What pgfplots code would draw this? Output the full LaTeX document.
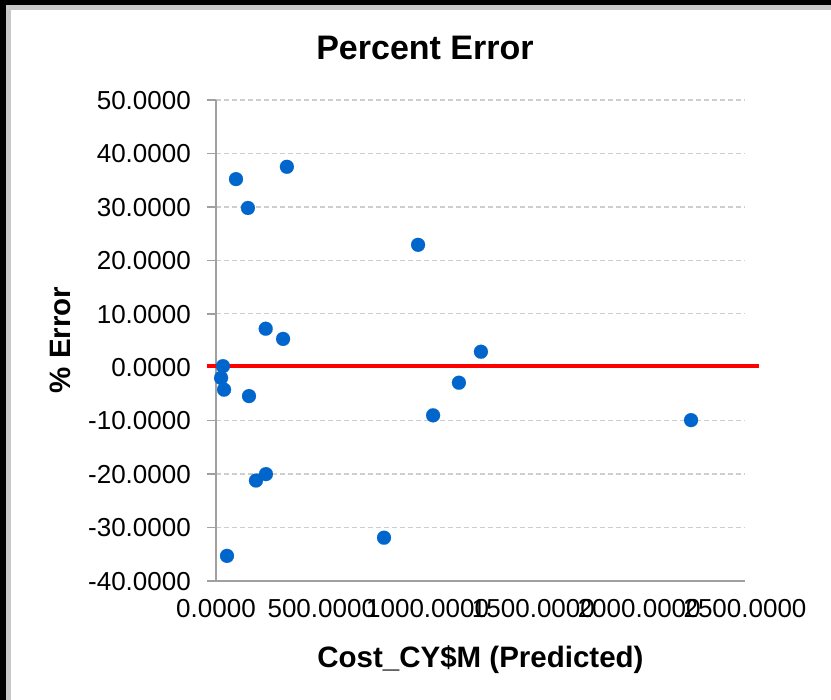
\documentclass[border=0pt]{standalone}
\usepackage{fontspec}
\setmainfont{Liberation Sans}
\usepackage{pgfplots}
\pgfplotsset{compat=1.18}
\definecolor{ptblue}{RGB}{0,102,204}
\definecolor{axgray}{RGB}{160,160,160}
\definecolor{gridgray}{RGB}{205,205,205}
\definecolor{bordergray}{RGB}{200,200,200}
\begin{document}
\begin{tikzpicture}
\useasboundingbox (0,0) rectangle (831pt,-700pt);
\fill[black] (0,0) rectangle (831pt,-700pt);
\fill[bordergray] (6pt,-5pt) rectangle (831pt,-700pt);
\fill[white] (11pt,-10pt) rectangle (831pt,-700pt);
\begin{axis}[
  at={(216pt,-581pt)}, anchor=south west,
  scale only axis, width=529pt, height=481pt,
  xmin=0, xmax=2500, ymin=-40, ymax=50,
  xtick={0,500,...,2500}, ytick={-40,-30,...,50},
  axis x line=bottom, axis y line=left,
  axis line style={-, axgray, line width=1.5pt},
  ymajorgrids,
  grid style={gridgray, dash pattern=on 5pt off 3pt, line width=1.3pt},
  tick align=outside, major tick length=9pt,
  xtick style={draw=none},
  ytick style={axgray, line width=1.5pt},
  /pgf/number format/assume math mode=true,
  /pgf/number format/.cd, fixed, fixed zerofill, precision=4, 1000 sep={},
  /pgfplots/.cd,
  ticklabel style={font=\fontsize{26}{30}\selectfont, inner sep=0pt},
  yticklabel style={anchor=base east, xshift=-16pt, yshift=-9.3pt},
  xticklabel style={anchor=base, yshift=-27.5pt},
  title={Percent Error},
  title style={font=\bfseries\fontsize{34}{40}\selectfont, at={(0.395,1)}, anchor=base, yshift=35pt, inner sep=0pt},
  xlabel={Cost\_CY\$M (Predicted)},
  xlabel style={font=\bfseries\fontsize{29.5}{34}\selectfont, at={(0.5,0)}, anchor=base, yshift=-86pt, inner sep=0pt},
  ylabel={\% Error},
  ylabel style={font=\bfseries\fontsize{29.5}{34}\selectfont, at={(axis description cs:-0.295,0.501)}, anchor=center, inner sep=0pt},
  clip=false,
]
\addplot[ptblue, only marks, mark=*, mark size=7pt, mark options={solid, fill=ptblue, draw=ptblue, line width=0.1pt}] coordinates {
  (94.5,35.2) (151,29.8) (335,37.5) (955,22.9) (235,7.2) (317,5.3)
  (33,0.2) (24,-2.0) (38,-4.2) (156,-5.4) (1252,2.9) (1148,-2.9)
  (1026,-9.0) (2245,-9.9) (189,-21.2) (236,-20.0) (794,-31.9) (52,-35.3)
};
\addplot[red, line width=4pt] coordinates {(-43,0.25) (2566,0.25)};
\end{axis}
\end{tikzpicture}
\end{document}
